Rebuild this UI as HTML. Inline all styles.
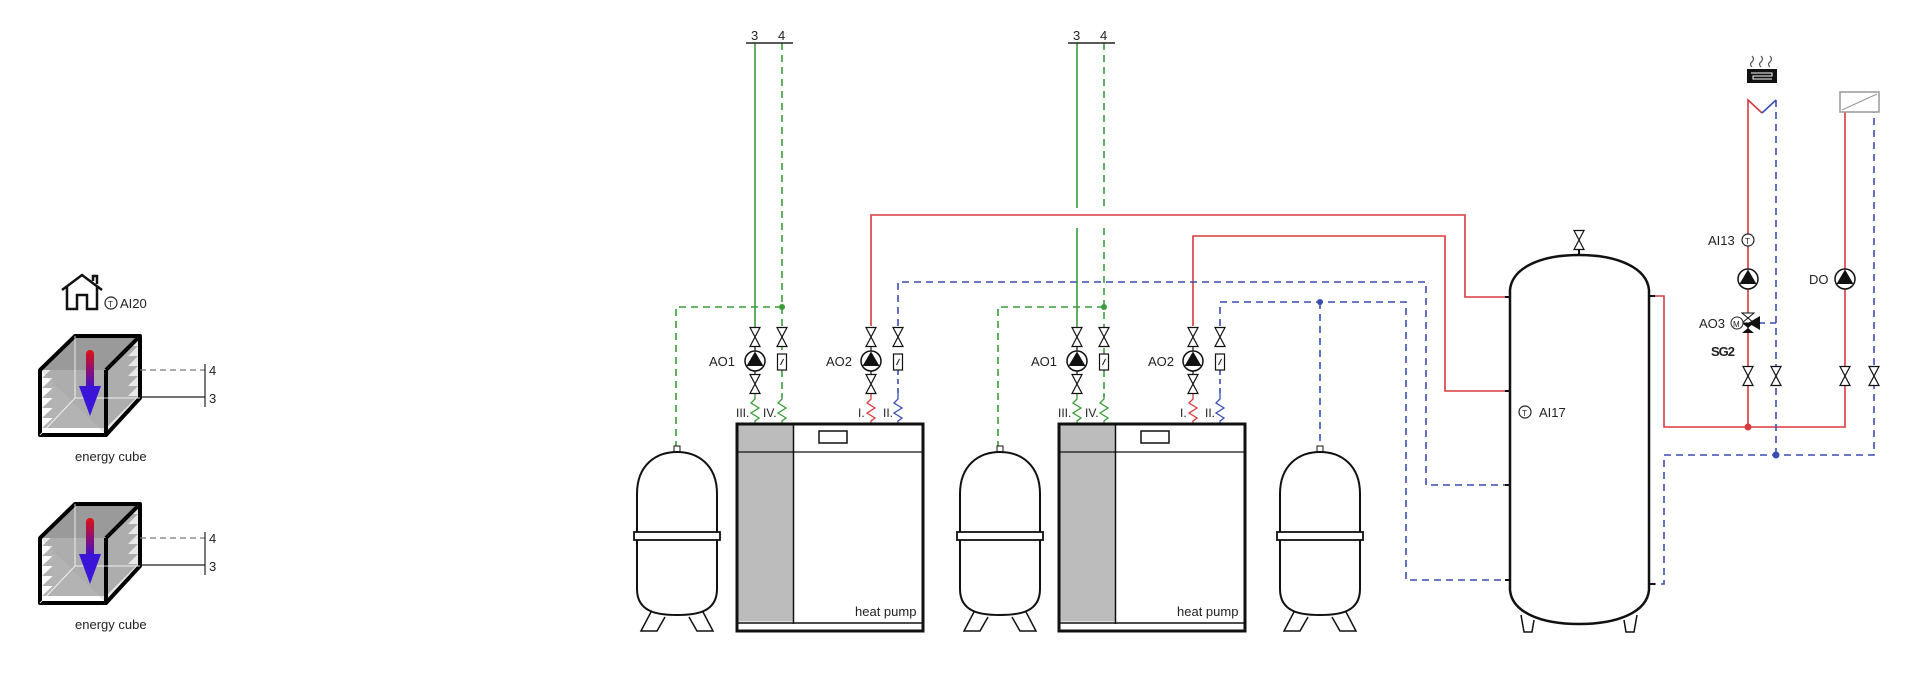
<!DOCTYPE html>
<html><head><meta charset="utf-8"><style>
html,body{margin:0;padding:0;background:#fff;}
svg{display:block;}
text{font-family:"Liberation Sans",sans-serif;fill:#222;}
</style></head><body>
<svg width="1920" height="678" viewBox="0 0 1920 678" xmlns="http://www.w3.org/2000/svg">
<defs>
<linearGradient id="ag" x1="0" y1="0" x2="0" y2="1"><stop offset="0" stop-color="#e01010"/><stop offset="1" stop-color="#3010e0"/></linearGradient>
<symbol id="valve" viewBox="-6 -10 12 20" width="12" height="20" overflow="visible">
<path d="M-5,-9.5 H5 L-5,9.5 H5 Z" fill="#fff" stroke="#111" stroke-width="1.2"/>
</symbol>
<symbol id="pump" viewBox="-11 -11 22 22" width="22" height="22" overflow="visible">
<circle r="10" fill="#fff" stroke="#111" stroke-width="1.5"/><path d="M0,-9.5 L8.5,5 H-8.5 Z" fill="#111"/>
</symbol>
<symbol id="meter" viewBox="-5 -9 10 18" width="10" height="18" overflow="visible">
<rect x="-4.5" y="-8" width="9" height="16" fill="#fff" stroke="#111" stroke-width="1.2"/><path d="M-1.5,3 L1.5,-3" stroke="#111"/>
</symbol>
<symbol id="tank" viewBox="-45 0 90 180" width="90" height="180" overflow="visible">
<path d="M0,0 V-5" stroke="#111" stroke-width="2"/><rect x="-3" y="-6" width="6" height="6" fill="#fff" stroke="#111"/>
<path d="M-40,42 C-40,12 -20,0 0,0 C20,0 40,12 40,42 V137 C40,160 20,163 0,163 C-20,163 -40,160 -40,137 Z" fill="#fff" stroke="#111" stroke-width="2"/>
<rect x="-43" y="80" width="86" height="8" fill="#fff" stroke="#111" stroke-width="1.8"/>
<path d="M-26,160 L-36,179 H-20 L-12,165 M26,160 L36,179 H20 L12,165" fill="none" stroke="#111" stroke-width="1.5"/>
</symbol>
<symbol id="hp" viewBox="0 0 186 208" width="186" height="208" overflow="visible">
<rect x="0" y="0" width="186" height="207" fill="#fff" stroke="#111" stroke-width="3"/>
<rect x="1.5" y="1.5" width="55" height="196" fill="#bcbcbc"/>
<line x1="56.5" y1="0" x2="56.5" y2="200" stroke="#111" stroke-width="1.5"/>
<line x1="0" y1="28" x2="186" y2="28" stroke="#111" stroke-width="1.2"/>
<line x1="0" y1="199" x2="186" y2="199" stroke="#111" stroke-width="1.5"/>
<rect x="82" y="7" width="28" height="12" fill="#fff" stroke="#111" stroke-width="1.5"/>
<text x="118" y="192" font-size="13">heat pump</text>
</symbol>
<symbol id="cube" viewBox="0 0 110 110" width="110" height="110" overflow="visible">
<path d="M40,36 L75,2 H140 V64 L106,101" fill="#e8e8e8" stroke="none"/>
<g fill="#9a9a9a" opacity="0.75">
<path d="M42,44 L76,12 H138 L106,44 Z"/><path d="M42,54 L76,22 H138 L106,54 Z"/><path d="M42,64 L76,32 H138 L106,64 Z"/><path d="M42,74 L76,42 H138 L106,74 Z"/><path d="M42,84 L76,52 H138 L106,84 Z"/><path d="M42,94 L76,62 H138 L106,94 Z"/>
</g>
<path d="M40,36 L75,2 H140 L106,36 Z" fill="#9a9a9a"/>
<path d="M40,36 L75,2 H140 V64 L106,101 H40 Z M106,36 L140,2 M106,36 V101" fill="none" stroke="#000" stroke-width="4" stroke-linejoin="round"/>
<path d="M75,2 V64 L40,101 M75,64 H140" fill="none" stroke="#fff" stroke-width="1" opacity="0.8"/>
<rect x="86" y="16" width="8" height="42" rx="4" fill="url(#ag)"/>
<path d="M79,52 H101 L90,82 Z" fill="#3a14d8"/>
</symbol>
</defs>

<!-- LEFT: house + cubes -->
<path d="M62,290 L82,275 L102,290 M67,287 V309 H77 V295 H87 V309 H97 V287 M93,281 V276 H97 V284" fill="none" stroke="#111" stroke-width="2.5"/>
<circle cx="111" cy="303" r="6" fill="none" stroke="#222" stroke-width="1.2"/><text x="108" y="307" font-size="8">T</text>
<text x="120" y="308" font-size="13">AI20</text>

<use href="#cube" x="0" y="334"/>
<line x1="140" y1="370" x2="205" y2="370" stroke="#777" stroke-dasharray="6,4" stroke-width="1.2"/>
<line x1="140" y1="397" x2="205" y2="397" stroke="#222" stroke-width="1.2"/>
<line x1="205" y1="364" x2="205" y2="407" stroke="#222" stroke-width="1.2"/>
<text x="209" y="375" font-size="13">4</text><text x="209" y="403" font-size="13">3</text>
<text x="75" y="461" font-size="13">energy cube</text>

<use href="#cube" x="0" y="502"/>
<line x1="140" y1="538" x2="205" y2="538" stroke="#777" stroke-dasharray="6,4" stroke-width="1.2"/>
<line x1="140" y1="565" x2="205" y2="565" stroke="#222" stroke-width="1.2"/>
<line x1="205" y1="532" x2="205" y2="575" stroke="#222" stroke-width="1.2"/>
<text x="209" y="543" font-size="13">4</text><text x="209" y="571" font-size="13">3</text>
<text x="75" y="629" font-size="13">energy cube</text>

<!-- PIPES -->
<g fill="none" stroke-width="1.6">
<!-- red -->
<path d="M871,326 V215 H1465 V297 H1510" stroke="#d93a3f"/>
<path d="M1193,326 V236 H1445 V391 H1510" stroke="#d93a3f"/>
<path d="M1649,296 H1664 V427 H1845 V112" stroke="#d93a3f"/>
<path d="M1748,427 V100 L1762,113" stroke="#d93a3f"/>
<!-- blue dashed -->
<g stroke="#3a4db0" stroke-dasharray="7,5">
<path d="M898,326 V282 H1426 V485 H1510"/>
<path d="M1220,326 V302 H1406 V580 H1510"/>
<path d="M1320,302 V452"/>
<path d="M1649,584 H1664 V455 H1874 V112"/>
<path d="M1776,455 V100"/>
<path d="M1758,323 H1776"/>
</g>
<path d="M1762,113 L1776,100" stroke="#3a4db0"/>
<!-- green HP1 -->
<path d="M755,43 V328" stroke="#3a9c3a"/>
<path d="M782,43 V354 M782,370 V397 M782,307 H676 V446" stroke="#3a9c3a" stroke-dasharray="7,5"/>
<!-- green HP2 -->
<path d="M1077,43 V208 M1077,228 V328" stroke="#3a9c3a"/>
<path d="M1104,43 V208 M1104,228 V354 M1104,370 V397 M1104,307 H998 V446" stroke="#3a9c3a" stroke-dasharray="7,5"/>
<!-- blue meter segments -->
<path d="M898,370 V397 M1220,370 V397" stroke="#3a4db0" stroke-dasharray="5,4"/>
<!-- pump column connections -->
<path d="M755,346 V352 M755,370 V376 M871,346 V352 M871,370 V376 M1077,346 V352 M1077,370 V376 M1193,346 V352 M1193,370 V376" stroke="#111" stroke-width="1.2"/>
</g>
<!-- top bars -->
<g stroke="#222" stroke-width="1.5"><line x1="746" y1="43" x2="793" y2="43"/><line x1="1068" y1="43" x2="1115" y2="43"/></g>
<text x="751" y="40" font-size="13">3</text><text x="778" y="40" font-size="13">4</text>
<text x="1073" y="40" font-size="13">3</text><text x="1100" y="40" font-size="13">4</text>
<!-- dots -->
<circle cx="782" cy="307" r="3" fill="#3a9c3a"/><circle cx="1104" cy="307" r="3" fill="#3a9c3a"/>
<circle cx="1320" cy="302" r="3" fill="#3a4db0"/><circle cx="1776" cy="455" r="3.5" fill="#3a4db0"/><circle cx="1748" cy="427" r="3.5" fill="#d93a3f"/>

<!-- zigzags -->
<g fill="none" stroke-width="1.3">
<path d="M755,393 V399 L751,403 L759,408 L751,413 L759,418 L755,421 V424" stroke="#3a9c3a"/>
<path d="M782,393 V399 L778,403 L786,408 L778,413 L786,418 L782,421 V424" stroke="#3a9c3a"/>
<path d="M871,393 V399 L867,403 L875,408 L867,413 L875,418 L871,421 V424" stroke="#d93a3f"/>
<path d="M898,393 V399 L894,403 L902,408 L894,413 L902,418 L898,421 V424" stroke="#3a4db0"/>
<path d="M1077,393 V399 L1073,403 L1081,408 L1073,413 L1081,418 L1077,421 V424" stroke="#3a9c3a"/>
<path d="M1104,393 V399 L1100,403 L1108,408 L1100,413 L1108,418 L1104,421 V424" stroke="#3a9c3a"/>
<path d="M1193,393 V399 L1189,403 L1197,408 L1189,413 L1197,418 L1193,421 V424" stroke="#d93a3f"/>
<path d="M1220,393 V399 L1216,403 L1224,408 L1216,413 L1224,418 L1220,421 V424" stroke="#3a4db0"/>
</g>

<!-- valves / pumps / meters HP1 -->
<use href="#valve" x="749" y="327"/><use href="#pump" x="744" y="350"/><use href="#valve" x="749" y="374"/>
<use href="#valve" x="776" y="327"/><use href="#meter" x="777" y="353"/>
<use href="#valve" x="865" y="327"/><use href="#pump" x="860" y="350"/><use href="#valve" x="865" y="374"/>
<use href="#valve" x="892" y="327"/><use href="#meter" x="893" y="353"/>
<!-- HP2 -->
<use href="#valve" x="1071" y="327"/><use href="#pump" x="1066" y="350"/><use href="#valve" x="1071" y="374"/>
<use href="#valve" x="1098" y="327"/><use href="#meter" x="1099" y="353"/>
<use href="#valve" x="1187" y="327"/><use href="#pump" x="1182" y="350"/><use href="#valve" x="1187" y="374"/>
<use href="#valve" x="1214" y="327"/><use href="#meter" x="1215" y="353"/>

<g font-size="13">
<text x="709" y="366">AO1</text><text x="826" y="366">AO2</text>
<text x="1031" y="366">AO1</text><text x="1148" y="366">AO2</text>
</g>
<g font-size="12">
<text x="736" y="417">III.</text><text x="763" y="417">IV.</text><text x="858" y="417">I.</text><text x="883" y="417">II.</text>
<text x="1058" y="417">III.</text><text x="1085" y="417">IV.</text><text x="1180" y="417">I.</text><text x="1205" y="417">II.</text>
</g>

<!-- heat pumps -->
<use href="#hp" x="737" y="424"/><use href="#hp" x="1059" y="424"/>
<!-- small tanks -->
<use href="#tank" x="632" y="452"/><use href="#tank" x="955" y="452"/><use href="#tank" x="1275" y="452"/>

<!-- big tank -->
<path d="M1579,250 V256" stroke="#111" stroke-width="2"/>
<use href="#valve" x="1573" y="230"/>
<path d="M1510,290 C1512,268 1540,255 1579,255 C1618,255 1647,268 1649,290 V590 C1647,612 1618,624 1579,624 C1540,624 1512,612 1510,590 Z" fill="#fff" stroke="#111" stroke-width="2.5"/>
<path d="M1521,615 L1524,632 H1532 L1534,620 M1637,615 L1634,632 H1626 L1624,620" fill="none" stroke="#111" stroke-width="1.5"/>
<g stroke="#111" stroke-width="2"><path d="M1505,297 H1510 M1505,391 H1510 M1505,485 H1510 M1505,580 H1510 M1649,296 H1655 M1649,584 H1655"/></g>
<circle cx="1525" cy="412" r="6" fill="none" stroke="#222" stroke-width="1.2"/><text x="1522" y="416" font-size="8">T</text>
<text x="1539" y="417" font-size="13">AI17</text>

<!-- right side -->
<g stroke="#555" fill="none" stroke-width="1.2"><path d="M1752,67 q-3,-3 0,-5 q3,-3 0,-6 M1761,67 q-3,-3 0,-5 q3,-3 0,-6 M1770,67 q-3,-3 0,-5 q3,-3 0,-6"/></g>
<rect x="1747" y="69" width="30" height="14" fill="#111"/>
<path d="M1751,73 H1772 V76 H1753 V79 H1772" fill="none" stroke="#fff" stroke-width="1"/>
<rect x="1840" y="92" width="39" height="20" fill="#fff" stroke="#999" stroke-width="1.5"/>
<line x1="1842" y1="110" x2="1877" y2="94" stroke="#999" stroke-width="1.2"/>

<circle cx="1748" cy="240" r="6" fill="#fff" stroke="#222" stroke-width="1.2"/><text x="1745" y="244" font-size="8">T</text>
<text x="1708" y="245" font-size="13">AI13</text>
<use href="#pump" x="1737" y="268"/><use href="#pump" x="1834" y="268"/>
<text x="1809" y="284" font-size="13">DO</text>
<!-- three-way valve -->
<path d="M1742,313 H1754 L1742,323 H1754 Z" fill="#fff" stroke="#111"/>
<path d="M1742,323 L1754,333 H1742 L1754,323 Z" fill="#111"/>
<path d="M1748,323 L1760,316 V330 Z" fill="#111"/>
<circle cx="1737" cy="323" r="6" fill="#fff" stroke="#222"/><text x="1733" y="327" font-size="8">M</text>
<text x="1699" y="328" font-size="13">AO3</text>
<text x="1711" y="356" font-size="13" font-weight="bold" letter-spacing="-1">SG2</text>
<use href="#valve" x="1742" y="366"/><use href="#valve" x="1770" y="366"/><use href="#valve" x="1839" y="366"/><use href="#valve" x="1868" y="366"/>
</svg>
</body></html>
